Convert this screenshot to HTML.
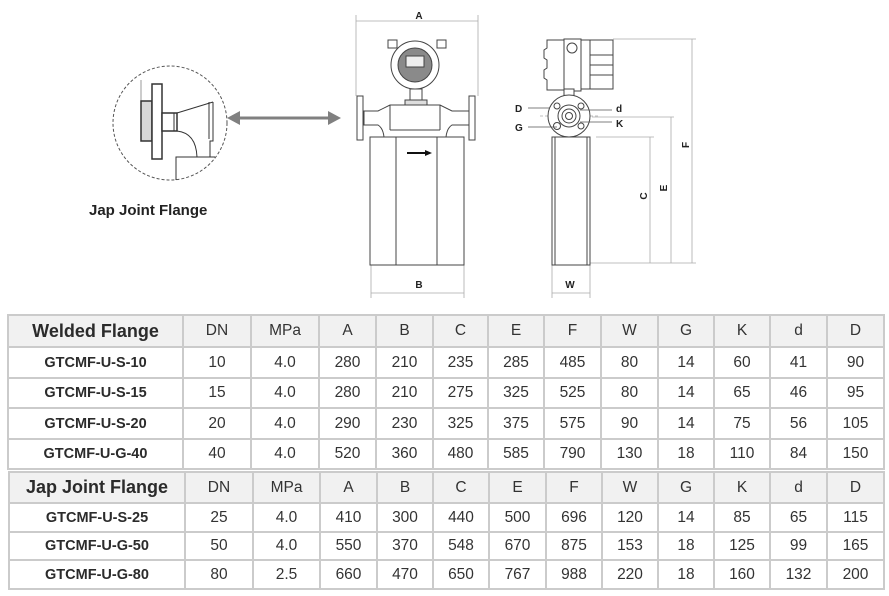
<!DOCTYPE html>
<html><head><meta charset="utf-8"><style>
html,body{margin:0;padding:0;background:#fff;width:889px;height:596px;overflow:hidden;position:relative;font-family:"Liberation Sans",Arial,sans-serif}
table{position:absolute;border-collapse:collapse;table-layout:fixed;color:#333}
td{border:2px solid #cbcbcb;text-align:center;padding:0;font-size:15.5px;white-space:nowrap;overflow:hidden}
tr.h td{background:#f1f1f1}
td.m{font-weight:bold;font-size:14.5px;color:#2b2b2b}
tr.h td.m{font-size:18px}
svg{position:absolute;left:0;top:0}
</style></head><body>
<svg width="889" height="310" viewBox="0 0 889 310" font-family="Liberation Sans, Arial, sans-serif">
<!-- detail circle -->
<circle cx="170" cy="123" r="57" fill="none" stroke="#555" stroke-width="1" stroke-dasharray="3,2"/>
<g stroke="#333" fill="#fff" stroke-width="1.5">
<line x1="141" y1="80" x2="141" y2="101" stroke="#999" stroke-width="1"/>
<rect x="141" y="101" width="11" height="40" fill="#d8d8d8"/>
<rect x="152" y="84" width="10" height="75"/>
<rect x="162" y="113" width="15" height="18"/>
<line x1="174" y1="113" x2="174" y2="131" stroke-width="1"/>
<path d="M177 113 L213 102" fill="none" stroke-width="1"/>
<path d="M177 131 Q196 133 197 157" fill="none" stroke-width="1"/>
<path d="M213 102 L213 141 L210 141 L210 157" fill="none" stroke-width="1"/>
<path d="M209 102 L209 139" fill="none" stroke-width="1"/>
<path d="M176 180 L176 157 L215 157" fill="none" stroke-width="1"/>
</g>
<line x1="236" y1="118" x2="330" y2="118" stroke="#808080" stroke-width="3"/>
<polygon points="227,118 240,111 240,125" fill="#808080"/>
<polygon points="341,118 328,111 328,125" fill="#808080"/>
<text x="89" y="215" font-size="15" font-weight="bold" fill="#222">Jap Joint Flange</text>

<!-- front view -->
<g stroke="#aaa" stroke-width="0.8">
<line x1="356" y1="15" x2="356" y2="96"/><line x1="478" y1="15" x2="478" y2="96"/>
<line x1="356" y1="21" x2="478" y2="21"/>
<line x1="371" y1="265" x2="371" y2="298"/><line x1="464" y1="265" x2="464" y2="298"/>
<line x1="371" y1="293" x2="464" y2="293"/>
</g>
<text x="419" y="19" font-size="10" font-weight="bold" text-anchor="middle" fill="#222">A</text>
<text x="419" y="288" font-size="10" font-weight="bold" text-anchor="middle" fill="#222">B</text>
<g stroke="#444" stroke-width="1" fill="#fff">
<rect x="388" y="40" width="9" height="8"/><rect x="437" y="40" width="9" height="8"/>
<circle cx="415" cy="65" r="24"/>
<circle cx="415" cy="65" r="17" fill="#8a8a8a"/>
<rect x="406" y="56" width="18" height="11" fill="#eee"/>
<rect x="410" y="89" width="12" height="18"/>
<rect x="405" y="100" width="22" height="8" fill="#ddd"/>
<path d="M364 111 L378 111 L390 105 L440 105 L452 111 L469 111 L469 125 L452 125 Q447 128 446 137 L384 137 Q383 128 378 125 L364 125 Z"/>
<line x1="390" y1="105" x2="390" y2="130"/><line x1="440" y1="105" x2="440" y2="130"/>
<line x1="390" y1="130" x2="440" y2="130"/>
<rect x="357" y="96" width="6" height="44"/><rect x="469" y="96" width="6" height="44"/>
<rect x="370" y="137" width="94" height="128"/>
<line x1="396" y1="137" x2="396" y2="265"/><line x1="437" y1="137" x2="437" y2="265"/>
</g>
<line x1="407" y1="153" x2="426" y2="153" stroke="#111" stroke-width="2"/>
<polygon points="432,153 425,150 425,156" fill="#111"/>

<!-- side view -->
<g stroke="#aaa" stroke-width="0.8">
<line x1="613" y1="39" x2="696" y2="39"/><line x1="592" y1="117" x2="674" y2="117"/>
<line x1="596" y1="137" x2="654" y2="137"/><line x1="590" y1="263" x2="696" y2="263"/>
<line x1="692" y1="39" x2="692" y2="263"/><line x1="671" y1="117" x2="671" y2="263"/>
<line x1="650" y1="137" x2="650" y2="263"/>
<line x1="552" y1="265" x2="552" y2="298"/><line x1="590" y1="265" x2="590" y2="298"/>
<line x1="552" y1="293" x2="590" y2="293"/>
<line x1="540" y1="116" x2="598" y2="116" stroke-dasharray="3,2"/>
<line x1="569" y1="92" x2="569" y2="155" stroke-dasharray="3,2"/>
</g>
<g stroke="#444" stroke-width="1" fill="#fff">
<rect x="552" y="137" width="38" height="128"/>
<line x1="555" y1="137" x2="555" y2="265"/><line x1="587" y1="137" x2="587" y2="265"/>
<path d="M547 40 L564 40 L564 90 L547 90 L547 80 L544 78 L544 70 L547 68 L547 60 L544 58 L544 50 L547 48 Z"/>
<rect x="564" y="39" width="17" height="52"/>
<circle cx="572" cy="48" r="5"/>
<rect x="581" y="40" width="32" height="49"/>
<line x1="590" y1="40" x2="590" y2="89"/>
<line x1="590" y1="55" x2="613" y2="55"/><line x1="590" y1="65" x2="613" y2="65"/><line x1="590" y1="75" x2="613" y2="75"/>
<rect x="564" y="89" width="10" height="8"/>
<circle cx="569" cy="116" r="21"/>
<circle cx="569" cy="116" r="11"/><circle cx="569" cy="116" r="7"/><circle cx="569" cy="116" r="3.5"/>
<circle cx="557" cy="106" r="3"/><circle cx="581" cy="106" r="3"/><circle cx="557" cy="126" r="3.5"/><circle cx="581" cy="126" r="3"/>
</g>
<g stroke="#555" stroke-width="0.8">
<line x1="528" y1="108" x2="550" y2="108"/><line x1="528" y1="127" x2="557" y2="127"/>
<line x1="580" y1="110" x2="612" y2="110"/><line x1="580" y1="122" x2="612" y2="122"/>
</g>
<g font-size="10" font-weight="bold" fill="#222">
<text x="515" y="112">D</text><text x="515" y="131">G</text>
<text x="616" y="112">d</text><text x="616" y="127">K</text>
<text x="570" y="288" text-anchor="middle">W</text>
<text transform="translate(689,145) rotate(-90)" text-anchor="middle">F</text>
<text transform="translate(667,188) rotate(-90)" text-anchor="middle">E</text>
<text transform="translate(647,196) rotate(-90)" text-anchor="middle">C</text>
</g>
</svg>

<table style="left:7px;top:314px;width:877px">
<colgroup><col style="width:175px"><col style="width:68px"><col style="width:68px"><col style="width:57px"><col style="width:57px"><col style="width:55px"><col style="width:56px"><col style="width:57px"><col style="width:57px"><col style="width:56px"><col style="width:56px"><col style="width:57px"><col style="width:57px"></colgroup>
<tr class="h" style="height:32px"><td class="m">Welded Flange</td><td>DN</td><td>MPa</td><td>A</td><td>B</td><td>C</td><td>E</td><td>F</td><td>W</td><td>G</td><td>K</td><td>d</td><td>D</td></tr>
<tr style="height:31px"><td class="m">GTCMF-U-S-10</td><td>10</td><td>4.0</td><td>280</td><td>210</td><td>235</td><td>285</td><td>485</td><td>80</td><td>14</td><td>60</td><td>41</td><td>90</td></tr>
<tr style="height:30px"><td class="m">GTCMF-U-S-15</td><td>15</td><td>4.0</td><td>280</td><td>210</td><td>275</td><td>325</td><td>525</td><td>80</td><td>14</td><td>65</td><td>46</td><td>95</td></tr>
<tr style="height:31px"><td class="m">GTCMF-U-S-20</td><td>20</td><td>4.0</td><td>290</td><td>230</td><td>325</td><td>375</td><td>575</td><td>90</td><td>14</td><td>75</td><td>56</td><td>105</td></tr>
<tr style="height:30px"><td class="m">GTCMF-U-G-40</td><td>40</td><td>4.0</td><td>520</td><td>360</td><td>480</td><td>585</td><td>790</td><td>130</td><td>18</td><td>110</td><td>84</td><td>150</td></tr>
</table>

<table style="left:8px;top:471px;width:876px">
<colgroup><col style="width:176px"><col style="width:68px"><col style="width:67px"><col style="width:57px"><col style="width:56px"><col style="width:56px"><col style="width:57px"><col style="width:56px"><col style="width:56px"><col style="width:56px"><col style="width:56px"><col style="width:57px"><col style="width:57px"></colgroup>
<tr class="h" style="height:31px"><td class="m">Jap Joint Flange</td><td>DN</td><td>MPa</td><td>A</td><td>B</td><td>C</td><td>E</td><td>F</td><td>W</td><td>G</td><td>K</td><td>d</td><td>D</td></tr>
<tr style="height:29px"><td class="m">GTCMF-U-S-25</td><td>25</td><td>4.0</td><td>410</td><td>300</td><td>440</td><td>500</td><td>696</td><td>120</td><td>14</td><td>85</td><td>65</td><td>115</td></tr>
<tr style="height:28px"><td class="m">GTCMF-U-G-50</td><td>50</td><td>4.0</td><td>550</td><td>370</td><td>548</td><td>670</td><td>875</td><td>153</td><td>18</td><td>125</td><td>99</td><td>165</td></tr>
<tr style="height:29px"><td class="m">GTCMF-U-G-80</td><td>80</td><td>2.5</td><td>660</td><td>470</td><td>650</td><td>767</td><td>988</td><td>220</td><td>18</td><td>160</td><td>132</td><td>200</td></tr>
</table>
</body></html>
